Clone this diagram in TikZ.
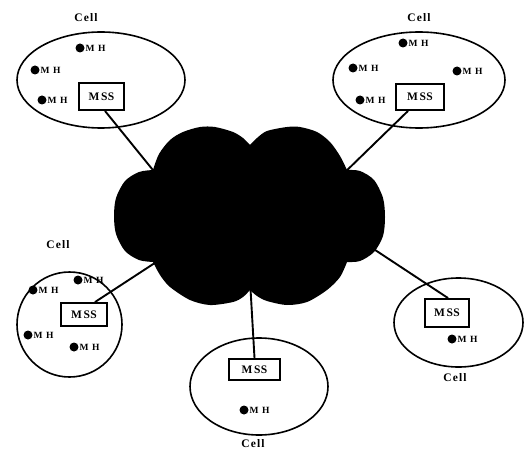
\documentclass[tikz,border=0pt]{standalone}
\usepackage{fontspec}
\setmainfont{Liberation Serif}
\newfontfamily\spacedfont[LetterSpace=10]{Liberation Serif}
\usetikzlibrary{shapes.geometric}
\begin{document}
\begin{tikzpicture}[x=1pt,y=-1pt,
  cellshape/.style={draw, ellipse, line width=1.6pt, inner sep=0pt},
  mssbox/.style={draw, rectangle, line width=1.9pt, inner sep=0pt, fill=white,
    font=\fontsize{11.5}{11.5}\selectfont\bfseries},
  celllabel/.style={font=\spacedfont\fontsize{11.5}{11.5}\selectfont\bfseries, inner sep=0pt},
  dotnode/.style={circle, fill=black, inner sep=0pt, minimum size=9pt},
  mhtext/.style={font=\fontsize{9.5}{9.5}\selectfont\bfseries, inner sep=0pt, anchor=west},
  link/.style={line width=1.9pt},
  mh/.pic={\node[dotnode] (-d) at (0,0) {}; \node[mhtext] (-t) at (5.5,0.5) {M\hspace{3.5pt}H};}
]
\useasboundingbox (0,0) rectangle (526,449);

% cells
\node[cellshape, minimum width=168pt, minimum height=96pt] (cell1) at (101,80) {};
\node[cellshape, minimum width=172pt, minimum height=96pt] (cell2) at (419,80) {};
\node[cellshape, minimum width=105pt, minimum height=105pt] (cell3) at (69.5,324.5) {};
\node[cellshape, minimum width=138pt, minimum height=97pt] (cell4) at (259,386.5) {};
\node[cellshape, minimum width=129pt, minimum height=89pt] (cell5) at (458.5,322.5) {};

% cell labels
\node[celllabel] (lbl1) at (86,18) {Cell};
\node[celllabel] (lbl2) at (419,18) {Cell};
\node[celllabel] (lbl3) at (58,245) {Cell};
\node[celllabel] (lbl4) at (253,444) {Cell};
\node[celllabel] (lbl5) at (455,378) {Cell};

% MSS boxes
\node[mssbox, minimum width=45pt, minimum height=27pt] (mss1) at (101.5,96.5) {M\kern1.5pt S\kern0.5pt S};
\node[mssbox, minimum width=48pt, minimum height=26pt] (mss2) at (420,97) {M\kern1.5pt S\kern0.5pt S};
\node[mssbox, minimum width=46pt, minimum height=23pt] (mss3) at (84,314.5) {M\kern1.5pt S\kern0.5pt S};
\node[mssbox, minimum width=51pt, minimum height=21pt] (mss4) at (254.5,369.5) {M\kern1.5pt S\kern0.5pt S};
\node[mssbox, minimum width=44pt, minimum height=28pt] (mss5) at (447,313) {M\kern1.5pt S\kern0.5pt S};

% mobile hosts
\pic (h11) at (80,48) {mh};
\pic (h12) at (35,70) {mh};
\pic (h13) at (42,100) {mh};
\pic (h21) at (403,43) {mh};
\pic (h22) at (353,68) {mh};
\pic (h23) at (457,71) {mh};
\pic (h24) at (360,100) {mh};
\pic (h31) at (78,280) {mh};
\pic (h32) at (33,290) {mh};
\pic (h33) at (28,335) {mh};
\pic (h34) at (74,347) {mh};
\pic (h41) at (244,410) {mh};
\pic (h51) at (452,339) {mh};

% connection points inside the cloud
\coordinate (c1) at (161,180);
\coordinate (c2) at (339,178);
\coordinate (c3) at (167,255);
\coordinate (c4) at (250,280);
\coordinate (c5) at (363,242);

% links
\draw[link] ([xshift=3.5pt]mss1.south) -- (c1);
\draw[link] ([xshift=-12pt]mss2.south) -- (c2);
\draw[link] ([xshift=11pt]mss3.north) -- (c3);
\draw[link] (mss4.north) -- (c4);
\draw[link] ([xshift=1pt]mss5.north) -- (c5);

% cloud
\fill[black]
  plot[smooth] coordinates {(153,170) (159,154) (170,140) (183,132) (200,127) (215,127) (233,132) (243,138) (250,145)}
  -- plot[smooth] coordinates {(250,145) (257,138) (267,131) (287,127) (300,127) (317,132) (330,142) (340,156) (347,170)}
  -- plot[smooth] coordinates {(347,170) (360,171) (374,180) (383,198) (385,217) (383,236) (374,252) (360,261) (347,262)}
  -- plot[smooth] coordinates {(347,262) (340,277) (327,290) (307,302) (287,305) (267,301) (257,296) (250,290)}
  -- plot[smooth] coordinates {(250,290) (243,297) (233,302) (210,305) (190,300) (170,287) (160,275) (153,262)}
  -- plot[smooth] coordinates {(153,262) (139,260) (125,251) (116,234) (114,216) (116,198) (125,181) (139,172) (153,170)}
  -- cycle;
\end{tikzpicture}
\end{document}
